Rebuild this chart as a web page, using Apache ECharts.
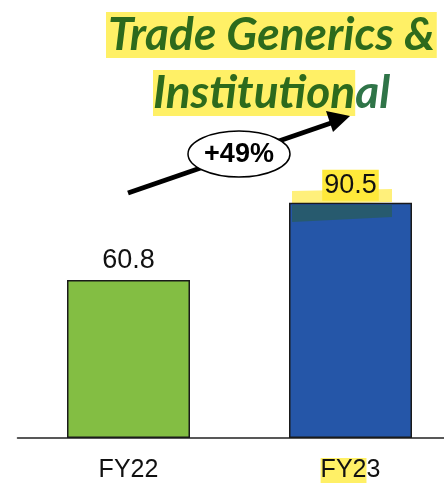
<!DOCTYPE html>
<html>
<head>
<meta charset="utf-8">
<script src="https://cdn.jsdelivr.net/npm/echarts@6/dist/echarts.min.js"></script>
<style>
  html, body { margin: 0; padding: 0; background: #fff; }
  #chart { width: 444px; height: 486px; }
</style>
</head>
<body>
<div id="chart"></div>
<script>
// data
var categories = ['FY22', 'FY23'];
var values = [60.8, 90.5];
var barColors = ['#83BE43', '#2556A8'];
var growthLabel = '+49%';

var chart = echarts.init(document.getElementById('chart'));

// title font
var tFont = { fontFamily: 'Lato', fontWeight: 'bold', fontStyle: 'italic', fontSize: 46 };

var option = {
    animation: false,
    title: [{
        left: 101,
        top: 6,
        text: '{hl|Trade Generics &}',
        textStyle: {
            rich: {
                hl: Object.assign({ color: '#2D6A1C', backgroundColor: '#FFF066', lineHeight: 48, padding: [0, 2, 0, 2] }, tFont)
            }
        }
    }, {
        left: 148,
        top: 64,
        text: '{hl|Institution}{p|al}',
        textStyle: {
            rich: {
                hl: Object.assign({ color: '#2D6A1C', backgroundColor: '#FFF066', lineHeight: 48 }, tFont),
                p: Object.assign({ color: '#2F7448', lineHeight: 48 }, tFont)
            }
        }
    }],
    grid: {
        left: 17.5,
        top: 178,
        width: 444,
        height: 260,
        outerBoundsMode: 'none'
    },
    xAxis: {
        type: 'category',
        data: categories,
        axisTick: { show: false },
        axisLine: { lineStyle: { color: '#222', width: 1.5 } },
        axisLabel: {
            margin: 20,
            formatter: function (v, i) {
                if (i === 1) return '{hl|FY2}{n|3}';
                return '{n|' + v + '}';
            },
            rich: {
                n: { fontFamily: 'Liberation Sans', fontSize: 25, color: '#111' },
                hl: { fontFamily: 'Liberation Sans', fontSize: 25, color: '#111', backgroundColor: '#FFF066' }
            }
        }
    },
    yAxis: {
        type: 'value',
        min: 0,
        max: 100,
        show: false
    },
    series: [{
        type: 'bar',
        barWidth: 123,
        data: values.map(function (v, i) {
            return {
                value: v,
                itemStyle: { color: barColors[i] },
                label: i === 1 ? {
                    backgroundColor: '#FFE93A',
                    padding: [2, 2, 2, 2],
                    distance: 2
                } : {}
            };
        }),
        itemStyle: { borderColor: '#1a1a1a', borderWidth: 1.5 },
        label: {
            show: true,
            position: 'top',
            distance: 6,
            fontFamily: 'Liberation Sans',
            fontSize: 27,
            color: '#111'
        }
    }],
    graphic: [
        // highlight smear over the FY23 bar top
        { type: 'polygon', z: 1, shape: { points: [[292, 191], [392, 189], [392, 202], [292, 204]] },
          style: { fill: 'rgba(255,236,90,0.8)' } },
        { type: 'polygon', z: 100, shape: { points: [[292, 205], [392, 205], [392, 217], [292, 222]] },
          style: { fill: 'rgba(40,90,100,0.85)' } },
        // growth arrow
        { type: 'line', z: 100, shape: { x1: 128, y1: 193, x2: 334, y2: 122 },
          style: { stroke: '#000', lineWidth: 5 } },
        { type: 'polygon', z: 100, shape: { points: [[350, 116], [326, 111], [333, 132]] },
          style: { fill: '#000' } },
        { type: 'ellipse', z: 101, shape: { cx: 239, cy: 154, rx: 51, ry: 23 },
          style: { fill: '#fff', stroke: '#000', lineWidth: 1.5 } },
        { type: 'text', z: 102, x: 239, y: 155,
          style: { text: growthLabel, fontFamily: 'Liberation Sans', fontWeight: 'bold', fontSize: 27,
                   fill: '#000', align: 'center', verticalAlign: 'middle' } }
    ]
};

chart.setOption(option);
window.onresize = function () {
    chart.resize();
};
</script>
</body>
</html>
